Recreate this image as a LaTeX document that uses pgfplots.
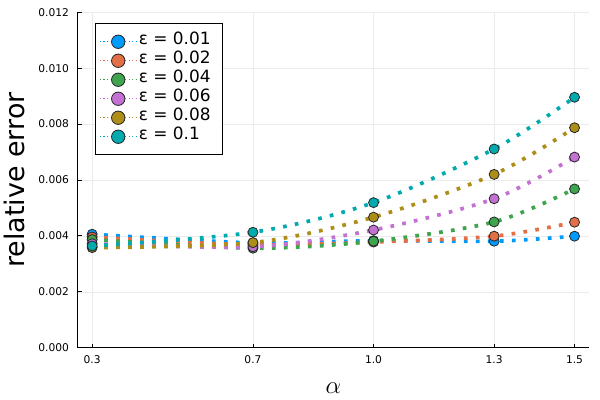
\documentclass[border=0pt]{standalone}
\usepackage{fontspec}
\setmainfont{DejaVu Sans}
\usepackage{pgfplots}
\usepackage{pgfplotstable}
\pgfplotsset{compat=1.18}
\definecolor{c1}{RGB}{0,154,250}
\definecolor{c2}{RGB}{227,111,71}
\definecolor{c3}{RGB}{62,164,78}
\definecolor{c4}{RGB}{195,113,210}
\definecolor{c5}{RGB}{172,142,24}
\definecolor{c6}{RGB}{0,170,174}
\pgfplotstableread{
a     e1      e2      e4      e6      e8      e10
0.3   0.00406 0.00396 0.00387 0.00372 0.00358 0.00364
0.7   0.00375 0.00368 0.00356 0.00361 0.00376 0.00413
1.0   0.00383 0.00378 0.00381 0.00421 0.00467 0.00519
1.3   0.00381 0.00399 0.00450 0.00533 0.00620 0.00711
1.5   0.00399 0.00449 0.00568 0.00682 0.00787 0.00896
}\data
\begin{document}
\begin{tikzpicture}
\useasboundingbox (0,0) rectangle (600bp,400bp);
\begin{axis}[
  at={(77.7bp,52.3bp)}, anchor=south west,
  scale only axis, width=511.3bp, height=335.4bp,
  xmin=0.264, xmax=1.536, ymin=0, ymax=0.012,
  scaled y ticks=false, scaled x ticks=false,
  axis lines*=left,
  axis line style={line width=0.9bp, black},
  xtick={0.3,0.7,1.0,1.3,1.5},
  xticklabels={0.3,0.7,1.0,1.3,1.5},
  ytick={0,0.002,0.004,0.006,0.008,0.010,0.012},
  yticklabels={0.000,0.002,0.004,0.006,0.008,0.010,0.012},
  tick align=inside, major tick length=4bp,
  tick style={line width=0.8bp, black},
  grid=major, grid style={line width=0.5bp, color=black!8},
  ticklabel style={font=\fontsize{10.7}{12}\selectfont},
  xticklabel style={yshift=-4.8bp},
  yticklabel style={xshift=-5.2bp},
  xlabel={$\alpha$},
  xlabel style={at={(axis description cs:0.5,-0.136)}, anchor=base, font=\fontsize{23}{23}\selectfont},
  ylabel={relative error},
  ylabel style={at={(axis description cs:-0.1031,0.5)}, anchor=base, font=\fontsize{27}{27}\selectfont},
  legend cell align=left,
  legend style={at={(0.0332,0.9672)}, anchor=north west, draw=black, line width=0.9bp,
    fill=white, inner xsep=4bp, inner ysep=8.5bp, row sep=0pt,
    font=\fontsize{17}{19}\selectfont,
    nodes={inner xsep=1.5bp, inner ysep=0pt, text height=12.4bp, text depth=6.6bp}},
  legend image code/.code={
    \draw[#1, line width=1.2bp, dash pattern=on 1.2bp off 2.4bp, mark=none] (0bp,0bp) -- (37bp,0bp);
    \draw[#1, mark size=6.7bp] plot coordinates {(18.5bp,0bp)};
  },
  every axis plot/.append style={line width=3.7bp, dash pattern=on 3.7bp off 8.3bp, smooth, mark=*, mark size=5bp},
]
\addplot[color=c1, mark options={solid, fill=c1, draw=black!85, line width=0.8bp}] table[x=a,y=e1] {\data};
\addlegendentry{ε = 0.01\kern6bp}
\addplot[color=c2, mark options={solid, fill=c2, draw=black!85, line width=0.8bp}] table[x=a,y=e2] {\data};
\addlegendentry{ε = 0.02\kern6bp}
\addplot[color=c3, mark options={solid, fill=c3, draw=black!85, line width=0.8bp}] table[x=a,y=e4] {\data};
\addlegendentry{ε = 0.04\kern6bp}
\addplot[color=c4, mark options={solid, fill=c4, draw=black!85, line width=0.8bp}] table[x=a,y=e6] {\data};
\addlegendentry{ε = 0.06\kern6bp}
\addplot[color=c5, mark options={solid, fill=c5, draw=black!85, line width=0.8bp}] table[x=a,y=e8] {\data};
\addlegendentry{ε = 0.08\kern6bp}
\addplot[color=c6, mark options={solid, fill=c6, draw=black!85, line width=0.8bp}] table[x=a,y=e10] {\data};
\addlegendentry{ε = 0.1\kern6bp}
\end{axis}
\end{tikzpicture}
\end{document}
